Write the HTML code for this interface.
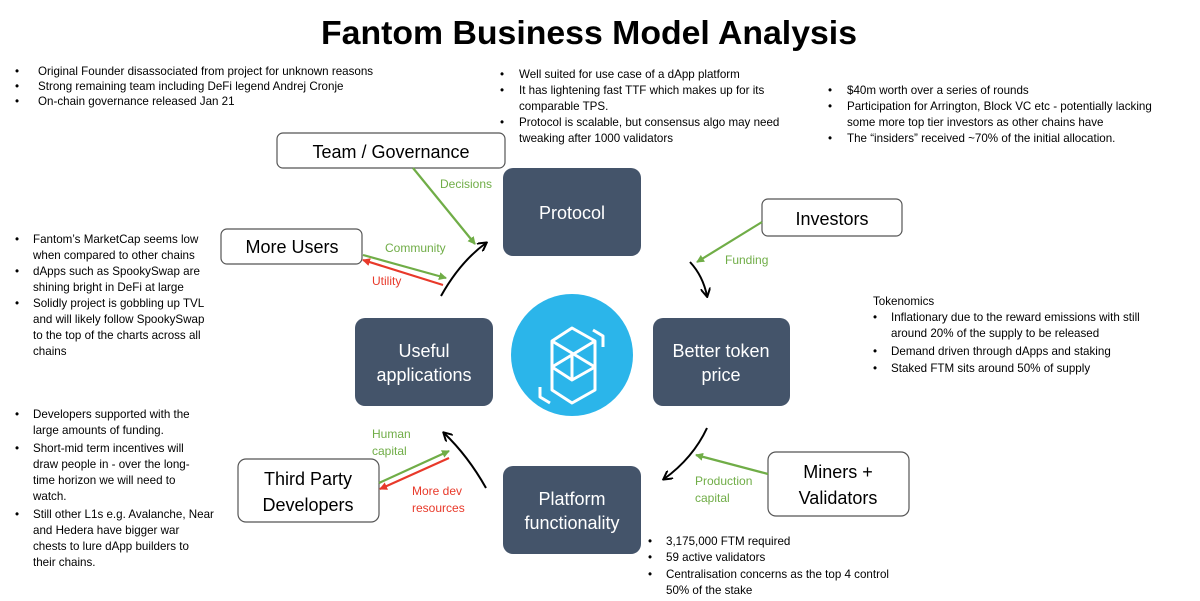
<!DOCTYPE html>
<html><head><meta charset="utf-8"><style>
body{margin:0;background:#fff}
svg{display:block}
text{font-family:"Liberation Sans",sans-serif}
.b{font-size:11.6px;fill:#000}
.g{fill:#70ad47;font-size:12px}
.r{fill:#e8392a;font-size:12px}
.w{fill:#fff;font-size:18px}
.k{fill:#000;font-size:18px}
</style></head><body>
<svg width="1200" height="601" viewBox="0 0 1200 601">
<defs>
<marker id="ab" markerWidth="10" markerHeight="10" refX="8" refY="5" orient="auto" markerUnits="userSpaceOnUse"><path d="M0,0 L9,5 L0,10" fill="none" stroke="#000" stroke-width="2"/></marker>
<marker id="ag" markerWidth="8" markerHeight="8" refX="7" refY="4" orient="auto" markerUnits="userSpaceOnUse"><path d="M0,0 L8,4 L0,8z" fill="#70ad47"/></marker>
<marker id="ar" markerWidth="8" markerHeight="8" refX="7" refY="4" orient="auto" markerUnits="userSpaceOnUse"><path d="M0,0 L8,4 L0,8z" fill="#e8392a"/></marker>
</defs>
<text x="589" y="44" text-anchor="middle" style="font-size:33px;font-weight:bold" textLength="536" lengthAdjust="spacingAndGlyphs">Fantom Business Model Analysis</text>

<g fill="#44546a">
<rect x="503" y="168" width="138" height="88" rx="10"/>
<rect x="653" y="318" width="137" height="88" rx="10"/>
<rect x="503" y="466" width="138" height="88" rx="10"/>
<rect x="355" y="318" width="138" height="88" rx="10"/>
</g>
<text class="w" x="572" y="219" text-anchor="middle">Protocol</text>
<text class="w" x="721" y="357" text-anchor="middle">Better token</text>
<text class="w" x="721" y="381" text-anchor="middle">price</text>
<text class="w" x="572" y="505" text-anchor="middle">Platform</text>
<text class="w" x="572" y="529" text-anchor="middle">functionality</text>
<text class="w" x="424" y="357" text-anchor="middle">Useful</text>
<text class="w" x="424" y="381" text-anchor="middle">applications</text>

<circle cx="572" cy="355" r="61" fill="#2bb5ea"/>
<g fill="none" stroke="#fff" stroke-width="3" stroke-linejoin="round">
<path d="M572,328 L595,341 L595,390 L572,403 L552,390 L552,341 Z"/>
<path d="M552,341 L595,367 M595,341 L552,367 M572,353 L572,380 M552,367 L572,380 L595,367"/>
<path d="M593,330 L603,336 L603,347"/>
<path d="M540,387 L540,397 L550,403"/>
</g>

<g fill="#fff" stroke="#555" stroke-width="1.2">
<rect x="277" y="133" width="228" height="35" rx="6"/>
<rect x="221" y="229" width="141" height="35" rx="6"/>
<rect x="762" y="199" width="140" height="37" rx="6"/>
<rect x="768" y="452" width="141" height="64" rx="8"/>
<rect x="238" y="459" width="141" height="63" rx="8"/>
</g>
<text class="k" x="391" y="158" text-anchor="middle">Team / Governance</text>
<text class="k" x="292" y="253" text-anchor="middle">More Users</text>
<text class="k" x="832" y="225" text-anchor="middle">Investors</text>
<text class="k" x="838" y="478" text-anchor="middle">Miners +</text>
<text class="k" x="838" y="504" text-anchor="middle">Validators</text>
<text class="k" x="308" y="485" text-anchor="middle">Third Party</text>
<text class="k" x="308" y="511" text-anchor="middle">Developers</text>

<g fill="none" stroke="#000" stroke-width="2">
<path d="M441,296 Q460,262 486,243" marker-end="url(#ab)"/>
<path d="M690,262 Q703,276 707,296" marker-end="url(#ab)"/>
<path d="M707,428 Q693,458 664,479" marker-end="url(#ab)"/>
<path d="M486,488 Q468,456 444,433" marker-end="url(#ab)"/>
</g>
<g stroke-width="2.2">
<line x1="413" y1="168" x2="475" y2="244" stroke="#70ad47" marker-end="url(#ag)"/>
<line x1="363" y1="255" x2="446" y2="278" stroke="#70ad47" marker-end="url(#ag)"/>
<line x1="443" y1="285" x2="363" y2="260" stroke="#e8392a" marker-end="url(#ar)"/>
<line x1="762" y1="222" x2="697" y2="262" stroke="#70ad47" marker-end="url(#ag)"/>
<line x1="768" y1="474" x2="696" y2="455" stroke="#70ad47" marker-end="url(#ag)"/>
<line x1="379" y1="483" x2="449" y2="451" stroke="#70ad47" marker-end="url(#ag)"/>
<line x1="449" y1="458" x2="380" y2="489" stroke="#e8392a" marker-end="url(#ar)"/>
</g>
<text class="g" x="440" y="188">Decisions</text>
<text class="g" x="385" y="252">Community</text>
<text class="r" x="372" y="285">Utility</text>
<text class="g" x="725" y="264">Funding</text>
<text class="g" x="695" y="485">Production</text>
<text class="g" x="695" y="502">capital</text>
<text class="g" x="372" y="438">Human</text>
<text class="g" x="372" y="455">capital</text>
<text class="r" x="412" y="495">More dev</text>
<text class="r" x="412" y="512">resources</text>

<g class="b">
<text x="15" y="75">•</text><text x="38" y="75">Original Founder disassociated from project for unknown reasons</text>
<text x="15" y="90">•</text><text x="38" y="90">Strong remaining team including DeFi legend Andrej Cronje</text>
<text x="15" y="105">•</text><text x="38" y="105">On-chain governance released Jan 21</text>

<text x="500" y="78">•</text><text x="519" y="78">Well suited for use case of a dApp platform</text>
<text x="500" y="94">•</text><text x="519" y="94">It has lightening fast TTF which makes up for its</text>
<text x="519" y="110">comparable TPS.</text>
<text x="500" y="126">•</text><text x="519" y="126">Protocol is scalable, but consensus algo may need</text>
<text x="519" y="142">tweaking after 1000 validators</text>

<text x="828" y="94">•</text><text x="847" y="94">$40m worth over a series of rounds</text>
<text x="828" y="110">•</text><text x="847" y="110">Participation for Arrington, Block VC etc - potentially lacking</text>
<text x="847" y="126">some more top tier investors as other chains have</text>
<text x="828" y="142">•</text><text x="847" y="142">The “insiders” received ~70% of the initial allocation.</text>

<text x="15" y="243">•</text><text x="33" y="243">Fantom’s MarketCap seems low</text>
<text x="33" y="259">when compared to other chains</text>
<text x="15" y="275">•</text><text x="33" y="275">dApps such as SpookySwap are</text>
<text x="33" y="291">shining bright in DeFi at large</text>
<text x="15" y="307">•</text><text x="33" y="307">Solidly project is gobbling up TVL</text>
<text x="33" y="323">and will likely follow SpookySwap</text>
<text x="33" y="339">to the top of the charts across all</text>
<text x="33" y="355">chains</text>

<text x="873" y="305">Tokenomics</text>
<text x="873" y="321">•</text><text x="891" y="321">Inflationary due to the reward emissions with still</text>
<text x="891" y="337">around 20% of the supply to be released</text>
<text x="873" y="355">•</text><text x="891" y="355">Demand driven through dApps and staking</text>
<text x="873" y="372">•</text><text x="891" y="372">Staked FTM sits around 50% of supply</text>

<text x="15" y="418">•</text><text x="33" y="418">Developers supported with the</text>
<text x="33" y="434">large amounts of funding.</text>
<text x="15" y="452">•</text><text x="33" y="452">Short-mid term incentives will</text>
<text x="33" y="468">draw people in - over the long-</text>
<text x="33" y="484">time horizon we will need to</text>
<text x="33" y="500">watch.</text>
<text x="15" y="518">•</text><text x="33" y="518">Still other L1s e.g. Avalanche, Near</text>
<text x="33" y="534">and Hedera have bigger war</text>
<text x="33" y="550">chests to lure dApp builders to</text>
<text x="33" y="566">their chains.</text>

<text x="648" y="545">•</text><text x="666" y="545">3,175,000 FTM required</text>
<text x="648" y="561">•</text><text x="666" y="561">59 active validators</text>
<text x="648" y="578">•</text><text x="666" y="578">Centralisation concerns as the top 4 control</text>
<text x="666" y="594">50% of the stake</text>
</g>
</svg>
</body></html>
